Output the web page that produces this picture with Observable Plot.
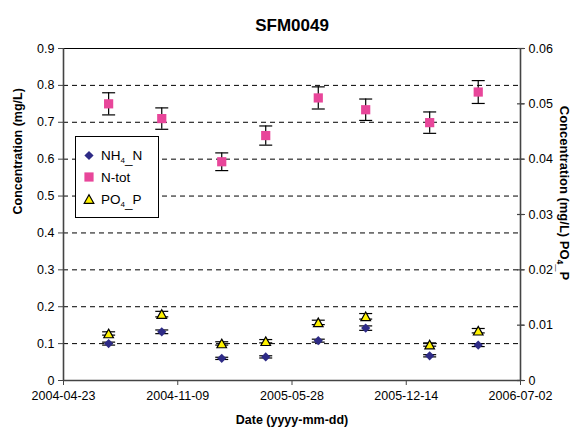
<!DOCTYPE html>
<html><head><meta charset="utf-8">
<script src="https://cdn.jsdelivr.net/npm/d3@7"></script>
<script src="https://cdn.jsdelivr.net/npm/@observablehq/plot@0.6"></script>
<style>
body{margin:0;background:#fff;}
svg{font-family:"Liberation Sans",Arial,sans-serif;}
</style>
</head><body><div id="chart"></div>
<script>
// ---- data ----
const dates   = ["2004-07-11","2004-10-12","2005-01-25","2005-04-12","2005-07-13","2005-10-04","2006-01-24","2006-04-19"];
const nh4     = [0.100,0.132,0.060,0.064,0.108,0.142,0.067,0.096];
const nh4Err  = [0.004,0.005,0.003,0.003,0.004,0.006,0.003,0.004];
const ntot    = [0.750,0.710,0.593,0.664,0.766,0.734,0.699,0.782];
const ntotErr = [0.030,0.029,0.024,0.026,0.030,0.029,0.029,0.031];
const po4     = [0.0085,0.0120,0.0067,0.0071,0.0105,0.0116,0.0065,0.0090];   // right axis
const po4Err  = [0.0003,0.0005,0.0003,0.0003,0.0004,0.0005,0.0003,0.0004];
const xTicks  = ["2004-04-23","2004-11-09","2005-05-28","2005-12-14","2006-07-02"];
const yTicksLeft  = [0,0.1,0.2,0.3,0.4,0.5,0.6,0.7,0.8,0.9];
const yTicksRight = [0,0.01,0.02,0.03,0.04,0.05,0.06];
const gridValues  = [0.1,0.2,0.3,0.4,0.5,0.6,0.7,0.8];
const titleText = "SFM0049";
const xLabel = "Date (yyyy-mm-dd)";
const yLabelLeft = "Concentration (mg/L)";
const yLabelRightParts = ["Concentration (mg/L) PO", "4", "_", "P"];

const leftMax = yTicksLeft[yTicksLeft.length-1];
const rightMax = yTicksRight[yTicksRight.length-1];
const k = leftMax / rightMax;
const parse = s => new Date(s + "T00:00:00Z");
const xDomain = [parse(xTicks[0]), parse(xTicks[xTicks.length-1])];

const rows = dates.map((d,i) => ({
  date: parse(d),
  nh4: nh4[i], nh4e: nh4Err[i],
  ntot: ntot[i], ntote: ntotErr[i],
  po4: po4[i]*k, po4e: po4Err[i]*k
}));

const hline = w => ({draw(ctx){ ctx.moveTo(-w,0); ctx.lineTo(w,0); }});
const sq = {draw(ctx){ const s = 4.6; ctx.rect(-s,-s,2*s,2*s); }};
const diamond = {draw(ctx){ const s = 4.6; ctx.moveTo(0,-s); ctx.lineTo(s,0); ctx.lineTo(0,s); ctx.lineTo(-s,0); ctx.closePath(); }};
const tri = {draw(ctx){ const w = 4.8, h = 4.3; ctx.moveTo(0,-h); ctx.lineTo(w,h); ctx.lineTo(-w,h); ctx.closePath(); }};

const navy = "#2E2B86", pink = "#E8469A", yellow = "#FFF200";

function errMarks(v, e) {
  return [
    Plot.ruleX(rows, {x:"date", y1: d => d[v]-d[e], y2: d => d[v]+d[e], stroke:"#000", strokeWidth:1.2}),
    Plot.dot(rows, {x:"date", y: d => d[v]+d[e], symbol: hline(6.5), r:1, stroke:"#000", strokeWidth:1.2, fill:"none"}),
    Plot.dot(rows, {x:"date", y: d => d[v]-d[e], symbol: hline(6.5), r:1, stroke:"#000", strokeWidth:1.2, fill:"none"})
  ];
}

const M = {top: 48, bottom: 56, left: 63, right: 60};
const W = 580, H = 436;

const chart = Plot.plot({
  width: W, height: H,
  marginTop: M.top, marginBottom: M.bottom, marginLeft: M.left, marginRight: M.right,
  style: {fontFamily: "'Liberation Sans', Arial, sans-serif", fontSize: "12.5px", color: "#000", background: "#fff"},
  x: {type: "utc", domain: xDomain},
  y: {domain: [0, leftMax]},
  marks: [
    Plot.ruleY(gridValues, {stroke:"#000", strokeDasharray:"5,4", strokeWidth:1}),
    Plot.frame({stroke:"#000", strokeWidth:1}),
    Plot.ruleX([xDomain[0]], {stroke:"#444", strokeWidth:1.6}),
    Plot.ruleX([xDomain[1]], {stroke:"#444", strokeWidth:1.6}),
    Plot.ruleY([0], {stroke:"#444", strokeWidth:1.6}),
    Plot.axisX(xTicks.map(parse), {tickFormat: d3.utcFormat("%Y-%m-%d"), tickSize: 5, tickPadding: 6, label: null, fontSize: 12.5, stroke:"#444"}),
    Plot.axisY(yTicksLeft, {anchor: "left", tickFormat: d => String(d), tickSize: 5, tickPadding: 4, label: null, fontSize: 12.5, stroke:"#444"}),
    Plot.axisY(yTicksRight.map(v => v*k), {anchor: "right", tickFormat: (d) => String(+(d/k).toFixed(2)), tickSize: 4, tickPadding: 4, label: null, fontSize: 12.5, stroke:"#444"}),
    Plot.dot(yTicksRight.map(v => v*k), {x: () => xDomain[1], y: d => d, symbol: hline(3.5), r:1, stroke:"#444", strokeWidth:1.2}),
    ...errMarks("ntot","ntote"),
    ...errMarks("po4","po4e"),
    ...errMarks("nh4","nh4e"),
    Plot.dot(rows, {x:"date", y:"ntot", symbol: sq, r:5, fill: pink, stroke: "none"}),
    Plot.dot(rows, {x:"date", y:"po4", symbol: tri, r:5, fill: yellow, stroke: "#000", strokeWidth: 1.2}),
    Plot.dot(rows, {x:"date", y:"nh4", symbol: diamond, r:5, fill: navy, stroke: "none"}),
    Plot.text([titleText], {frameAnchor: "top", dy: -30, fontSize: 17, fontWeight: "bold"}),
    Plot.text([xLabel], {frameAnchor: "bottom", dy: 43, fontSize: 12.5, fontWeight: "bold"}),
    Plot.text([yLabelLeft], {frameAnchor: "left", dx: -46, rotate: -90, fontSize: 12.5, fontWeight: "bold"})
  ]
});

document.getElementById("chart").appendChild(chart);
const svg = d3.select(chart);

// right axis title with subscript
const rt = svg.append("text")
  .attr("text-anchor", "start")
  .attr("font-family", "'Liberation Sans', Arial, sans-serif")
  .attr("font-size", 13).attr("font-weight", "bold").attr("fill", "#000");
rt.append("tspan").text(yLabelRightParts[0]);
rt.append("tspan").attr("font-size", "8.5px").attr("dy", "3").text(yLabelRightParts[1]);
rt.append("tspan").text(yLabelRightParts[2]);
rt.append("tspan").attr("dy", "-3").text(yLabelRightParts[3]);
const rLen = rt.node().getComputedTextLength();
const rCenter = 193;
rt.attr("transform", `translate(${W - 15},${rCenter - rLen/2}) rotate(90)`).attr("dy", "0.35em");

// legend
const lg = svg.append("g").attr("font-size", 13.5).attr("text-anchor", "start")
  .attr("font-family", "'Liberation Sans', Arial, sans-serif");
lg.append("rect").attr("x", 75.5).attr("y", 136.5).attr("width", 83).attr("height", 81).attr("fill", "#fff").attr("stroke", "#000").attr("stroke-width", 1);
const items = [
  {sym: diamond, fill: navy, stroke: "none", label: ["NH","4","_N"]},
  {sym: sq, fill: pink, stroke: "none", label: ["N-tot"]},
  {sym: tri, fill: yellow, stroke: "#000", label: ["PO","4","_P"]}
];
const ys = [155.5, 177, 199];
items.forEach((it, i) => {
  const p = d3.path(); it.sym.draw(p, 25);
  lg.append("path").attr("d", p.toString()).attr("transform", `translate(89,${ys[i]})`)
    .attr("fill", it.fill).attr("stroke", it.stroke).attr("stroke-width", 1.2);
  const t = lg.append("text").attr("x", 101).attr("y", ys[i]).attr("dy", "0.35em").attr("text-anchor", "start");
  if (it.label.length === 1) t.text(it.label[0]);
  else {
    t.append("tspan").text(it.label[0]);
    t.append("tspan").attr("font-size", "8px").attr("dy", "3").text(it.label[1]);
    t.append("tspan").text(it.label[2].slice(0,1));
    t.append("tspan").attr("dy", "-3").text(it.label[2].slice(1));
  }
});
</script>
</body></html>
